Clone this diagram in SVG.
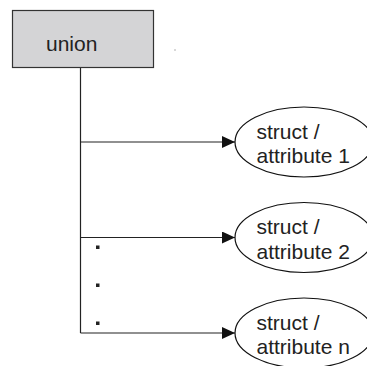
<svg xmlns="http://www.w3.org/2000/svg" width="367" height="366" viewBox="0 0 367 366">
<defs>
<style>
.lbl{font-family:"Liberation Sans",Arial,sans-serif;font-size:21px;fill:#222}
.edge{stroke:#222;stroke-width:1.2;fill:none}
.ell{fill:#fff;stroke:#111;stroke-width:1.2}
.dt{fill:#222}
</style>
<marker id="arr" viewBox="0 0 13 12" refX="13" refY="6" markerWidth="13" markerHeight="12" markerUnits="userSpaceOnUse" orient="auto">
<path d="M0,0 L13,6 L0,12 z" fill="#111"/>
</marker>
</defs>
<rect width="367" height="366" fill="#fff"/>
<g id="connectors">
<path class="edge" d="M80.5,67 V333"/>
<path class="edge" d="M80.5,142 H235" marker-end="url(#arr)"/>
<path class="edge" d="M80.5,237.5 H235" marker-end="url(#arr)"/>
<path class="edge" d="M80.5,333 H235" marker-end="url(#arr)"/>
</g>
<g id="union">
<rect x="12.5" y="10.5" width="141" height="57" fill="#d4d4d6" stroke="#333" stroke-width="1.2"/>
<text class="lbl" x="46" y="51">union</text>
</g>
<g id="dot"><rect x="174.5" y="49.5" width="1" height="1" fill="#666"/></g>
<g id="dots">
<rect class="dt" x="96" y="245.5" width="3.5" height="3.5"/>
<rect class="dt" x="96" y="283.5" width="3.5" height="3.5"/>
<rect class="dt" x="96" y="321.5" width="3.5" height="3.5"/>
</g>
<g id="attr1">
<ellipse class="ell" cx="304" cy="142" rx="69" ry="35"/>
<text class="lbl" x="256.5" y="139">struct /</text>
<text class="lbl" x="256.5" y="163">attribute 1</text>
</g>
<g id="attr2">
<ellipse class="ell" cx="304" cy="237.5" rx="69" ry="35"/>
<text class="lbl" x="256.5" y="234">struct /</text>
<text class="lbl" x="256.5" y="258.5">attribute 2</text>
</g>
<g id="attrn">
<ellipse class="ell" cx="304" cy="333" rx="69" ry="35"/>
<text class="lbl" x="256.5" y="329.5">struct /</text>
<text class="lbl" x="256.5" y="353.5">attribute n</text>
</g>
</svg>
